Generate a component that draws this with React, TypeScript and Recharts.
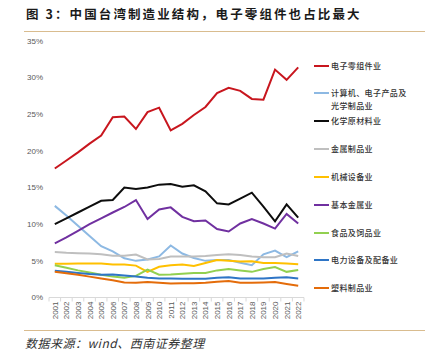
import React from 'react';
import { LineChart, Line, XAxis, YAxis } from 'recharts';

const years = ['2001','2002','2003','2004','2005','2006','2007','2008','2009','2010','2011','2012','2013','2014','2015','2016','2017','2018','2019','2020','2021','2022'];

const electronicParts = [17.6, 18.7, 19.8, 21.0, 22.1, 24.6, 24.7, 23.0, 25.3, 25.9, 22.8, 23.7, 24.9, 26.0, 27.9, 28.6, 28.2, 27.1, 27.0, 31.1, 29.7, 31.4];
const computersOptics = [12.5, 11.2, 9.8, 8.4, 7.0, 6.3, 5.35, 5.0, 5.2, 5.6, 7.1, 6.0, 5.4, 5.0, 5.1, 5.1, 4.75, 4.4, 5.9, 6.4, 5.5, 6.3];
const chemicals = [10.0, 10.8, 11.6, 12.4, 13.2, 13.3, 15.0, 14.8, 15.0, 15.4, 15.5, 15.1, 15.3, 14.5, 12.85, 12.7, 13.5, 14.3, 12.4, 10.4, 12.7, 10.9];
const metalProducts = [6.2, 6.1, 6.05, 6.0, 5.9, 5.7, 5.7, 5.85, 5.2, 5.25, 5.6, 5.6, 5.6, 5.65, 5.8, 5.9, 5.8, 5.6, 5.5, 5.5, 6.0, 5.65];
const machinery = [4.6, 4.62, 4.63, 4.65, 4.65, 4.5, 4.5, 4.35, 3.5, 4.2, 4.4, 4.5, 4.3, 4.7, 5.1, 5.0, 4.9, 4.95, 4.7, 4.7, 4.65, 4.55];
const basicMetals = [7.4, 8.2, 9.1, 10.0, 10.8, 11.6, 12.35, 13.3, 10.7, 12.0, 12.3, 11.0, 10.4, 10.5, 9.35, 9.0, 10.1, 10.7, 10.1, 9.4, 11.4, 10.1];
const foodFeed = [4.4, 4.05, 3.7, 3.4, 3.1, 2.85, 2.7, 2.95, 3.8, 3.1, 3.15, 3.25, 3.35, 3.35, 3.7, 3.9, 3.7, 3.5, 3.9, 4.15, 3.5, 3.75];
const electricalEquip = [3.65, 3.5, 3.35, 3.2, 3.1, 3.15, 3.0, 2.85, 2.7, 2.6, 2.6, 2.55, 2.55, 2.55, 2.7, 2.75, 2.6, 2.6, 2.6, 2.7, 2.75, 2.6];
const plastics = [3.5, 3.3, 3.1, 2.85, 2.6, 2.35, 2.05, 2.0, 2.1, 2.0, 1.9, 1.95, 1.95, 2.0, 2.15, 2.25, 2.0, 2.0, 2.05, 2.1, 1.85, 1.6];

const yTicks = [0, 5, 10, 15, 20, 25, 30, 35];

const seriesDefs = [
  { key: 'electronicParts', name: '电子零组件业', color: '#c8161e', values: electronicParts },
  { key: 'computersOptics', name: '计算机、电子产品及\n光学制品业', color: '#8db9e3', values: computersOptics },
  { key: 'chemicals', name: '化学原材料业', color: '#0d0d0d', values: chemicals },
  { key: 'metalProducts', name: '金属制品业', color: '#bfbfbf', values: metalProducts },
  { key: 'machinery', name: '机械设备业', color: '#ffc000', values: machinery },
  { key: 'basicMetals', name: '基本金属业', color: '#7030a0', values: basicMetals },
  { key: 'foodFeed', name: '食品及饲品业', color: '#92d050', values: foodFeed },
  { key: 'electricalEquip', name: '电力设备及配备业', color: '#2e75c6', values: electricalEquip },
  { key: 'plastics', name: '塑料制品业', color: '#e46c0a', values: plastics },
];

const data = years.map((y, i) => {
  const row: Record<string, number | string> = { year: y };
  seriesDefs.forEach((s) => { row[s.key] = s.values[i]; });
  return row;
});

const STEP = (255 - 11.6) / 21;

const XTick = (props: any) => {
  const { x, y, payload, index } = props;
  const half = STEP / 2;
  return (
    <g>
      <line x1={x - half} x2={x - half} y1={y} y2={y + 4} stroke="#d9d9d9" />
      {index === years.length - 1 && (
        <line x1={x + half} x2={x + half} y1={y} y2={y + 4} stroke="#d9d9d9" />
      )}
      <text
        transform={`translate(${x + 3},${y + 4}) rotate(-90)`}
        textAnchor="end"
        fontSize={8}
        fill="#595959"
        fontFamily="Liberation Sans, Arial, sans-serif"
      >
        {payload.value}
      </text>
    </g>
  );
};

const legendTops = [65, 92, 120.7, 148.7, 176, 204.3, 232.3, 259.3, 287.3];

export default function App() {
  return (
    <div style={{ position: 'absolute', left: 0, top: 0, width: 425, height: 356, background: '#fff', overflow: 'hidden' }}>
      <div
        style={{
          position: 'absolute', left: 26, top: 6, fontSize: 12.5, fontWeight: 700, letterSpacing: 2.1,
          fontFamily: '"Noto Sans CJK SC", sans-serif', color: '#1a1a1a', whiteSpace: 'nowrap', lineHeight: '16px',
        }}
      >
        图 3：中国台湾制造业结构，电子零组件也占比最大
      </div>
      <div style={{ position: 'absolute', left: 24, top: 31, width: 401, borderTop: '1.5px solid #d9bc8f' }} />
      <div style={{ position: 'absolute', left: 0, top: 0 }}>
        <LineChart width={425} height={356} data={data} margin={{ top: 41, right: 121, bottom: 28.5, left: 0 }}>
          <XAxis
            dataKey="year"
            interval={0}
            padding={{ left: 5.8, right: 5.8 }}
            axisLine={{ stroke: '#d9d9d9' }}
            tickLine={false}
            tickSize={0}
            tickMargin={0}
            height={30}
            tick={<XTick />}
          />
          <YAxis
            type="number"
            domain={[0, 35]}
            ticks={yTicks}
            interval={0}
            width={49}
            axisLine={false}
            tickLine={false}
            tickSize={0}
            tickMargin={6}
            tickFormatter={(v: number) => `${v}%`}
            tick={{ fontSize: 8, fill: '#595959', fontFamily: 'Liberation Sans, Arial, sans-serif' }}
          />
          {seriesDefs.map((s) => (
            <Line
              key={s.key}
              type="linear"
              dataKey={s.key}
              stroke={s.color}
              strokeWidth={2}
              dot={false}
              activeDot={false}
              isAnimationActive={false}
            />
          ))}
        </LineChart>
      </div>
      {seriesDefs.map((s, i) => {
        const lines = s.name.split('\n');
        return (
          <div key={s.key} style={{ position: 'absolute', left: 314, top: legendTops[i] - 6.5 }}>
            <div style={{ position: 'absolute', left: 0, top: 6, width: 15, height: 2, background: s.color }} />
            <div
              style={{
                position: 'absolute', left: 17, top: 0, fontSize: 8, lineHeight: '13.5px', letterSpacing: 0.4,
                fontFamily: '"Noto Sans CJK SC", sans-serif', color: '#333', whiteSpace: 'nowrap', fontWeight: 500,
              }}
            >
              {lines.map((l, j) => (<div key={j}>{l}</div>))}
            </div>
          </div>
        );
      })}
      <div style={{ position: 'absolute', left: 24, top: 330, width: 401, borderTop: '1.5px solid #d9bc8f' }} />
      <div
        style={{
          position: 'absolute', left: 25, top: 334, fontSize: 12, fontStyle: 'italic', color: '#333',
          fontFamily: '"Noto Sans CJK SC", sans-serif', whiteSpace: 'nowrap', lineHeight: '18px', letterSpacing: 0.5,
        }}
      >
        数据来源：wind、西南证券整理
      </div>
    </div>
  );
}
